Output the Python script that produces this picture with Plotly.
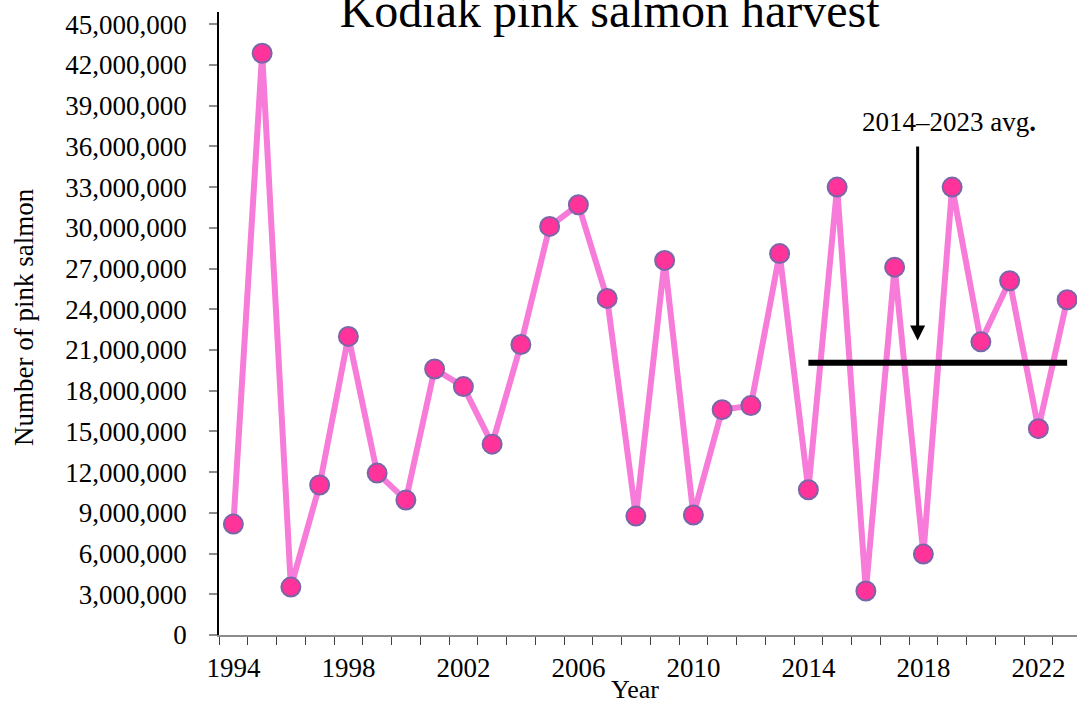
import plotly.graph_objects as go

# Kodiak pink salmon harvest
years = list(range(1994, 2024))
harvest = [8.17e6, 42.86e6, 3.53e6, 11.05e6, 22.0e6, 11.93e6, 9.94e6, 19.6e6, 18.3e6, 14.06e6,
           21.4e6, 30.1e6, 31.7e6, 24.8e6, 8.76e6, 27.6e6, 8.84e6, 16.6e6, 16.9e6, 28.1e6,
           10.7e6, 33.0e6, 3.24e6, 27.1e6, 5.96e6, 33.0e6, 21.6e6, 26.1e6, 15.2e6, 24.7e6]
label_years = [1994, 1998, 2002, 2006, 2010, 2014, 2018, 2022]
avg_years = years[-10:]
avg_value = sum(harvest[-10:]) / 10

FONT = "Liberation Serif"

fig = go.Figure()
fig.add_trace(go.Scatter(
    x=years, y=harvest, mode="lines+markers",
    line=dict(color="#F77BD8", width=6),
    marker=dict(size=19, color="#FF3399", line=dict(color="#7A66A8", width=2)),
    cliponaxis=False, showlegend=False,
))
# 2014-2023 average line
fig.add_trace(go.Scatter(
    x=[avg_years[0], avg_years[-1]], y=[avg_value, avg_value], mode="lines",
    line=dict(color="black", width=6), cliponaxis=False, showlegend=False,
))

fig.update_layout(
    width=1077, height=701,
    margin=dict(l=219, r=0, t=12, b=66, autoexpand=False),
    plot_bgcolor="white", paper_bgcolor="white",
    font=dict(family=FONT, size=27, color="black"),
    title=dict(text="Kodiak pink salmon harvest", font=dict(family=FONT, size=48, color="black"),
               x=0.566, xanchor="center", xref="container",
               y=1 - 10 / 701, yanchor="middle", yref="container"),
)
fig.update_xaxes(
    range=[1993.5, 1993.5 + 858 / 28.75], automargin=False,
    tickmode="array", tickvals=label_years, ticktext=[str(y) for y in label_years],
    ticks="", showgrid=False, zeroline=False, ticklabelstandoff=8,
    showline=True, linecolor="#8C8C8C", linewidth=1.5,
    tickfont=dict(family=FONT, size=27),
    minor=dict(tick0=1993.5, dtick=1, ticks="outside", ticklen=8,
               tickcolor="#404040", tickwidth=1, showgrid=False),
)
fig.update_yaxes(
    range=[0, 45.9e6], dtick=3e6, tick0=0, tickformat=",d", automargin=False,
    ticks="outside", ticklen=8, tickcolor="#8C8C8C", tickwidth=1.5,
    ticklabelstandoff=17,
    showgrid=False, zeroline=False,
    showline=True, linecolor="black", linewidth=1.5,
    tickfont=dict(family=FONT, size=27),
)

# axis titles
fig.add_annotation(text="Number of pink salmon", xref="paper", yref="paper",
                   x=(24 - 219) / 858, y=(635 - 317) / 623, textangle=-90,
                   xanchor="center", yanchor="middle", showarrow=False,
                   font=dict(family=FONT, size=27))
fig.add_annotation(text="Year", xref="paper", yref="paper",
                   x=(635 - 219) / 858, y=(635 - 690) / 623,
                   xanchor="center", yanchor="middle", showarrow=False,
                   font=dict(family=FONT, size=26))

# avg label and arrow
fig.add_annotation(text="2014\u20132023 avg<b>.</b>", x=2018.89, y=36.55e6,
                   xanchor="center", yanchor="bottom", showarrow=False,
                   font=dict(family=FONT, size=27))
fig.add_annotation(text="", x=2017.8, y=21.7e6, ax=2017.8, ay=36.1e6,
                   axref="x", ayref="y", showarrow=True,
                   arrowhead=2, arrowsize=1, arrowwidth=3, arrowcolor="black")

# drop the default page margin so the figure sits at the window corner
fig.write_html("out.html", config={"displayModeBar": False},
               post_script="document.body.style.margin='0';")
